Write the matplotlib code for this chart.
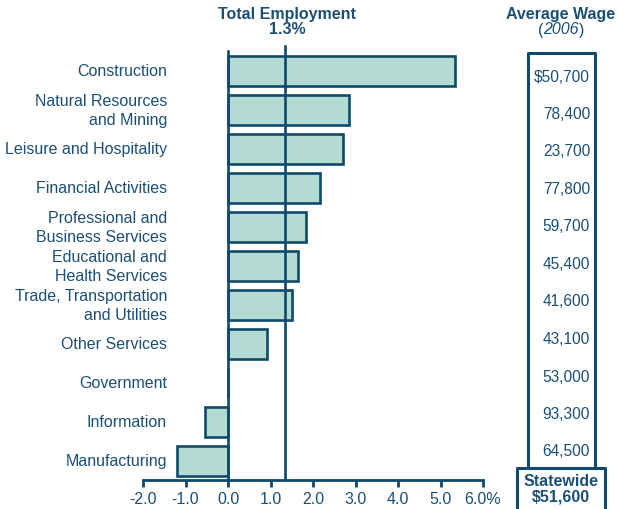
import matplotlib
matplotlib.use('Agg')
import matplotlib.pyplot as plt
import numpy as np
from matplotlib.patches import Rectangle

# data
industries = [
    'Construction',
    'Natural Resources\nand Mining',
    'Leisure and Hospitality',
    'Financial Activities',
    'Professional and\nBusiness Services',
    'Educational and\nHealth Services',
    'Trade, Transportation\nand Utilities',
    'Other Services',
    'Government',
    'Information',
    'Manufacturing',
]
growth = [5.35, 2.85, 2.7, 2.17, 1.83, 1.64, 1.5, 0.92, 0.01, -0.53, -1.19]
wages = ['$50,700', '78,400', '23,700', '77,800', '59,700', '45,400',
         '41,600', '43,100', '53,000', '93,300', '64,500']
total_growth = 1.3
statewide_wage = '$51,600'
wage_year = '2006'
xticks = [-2, -1, 0, 1, 2, 3, 4, 5, 6]
xtick_labels = ['-2.0', '-1.0', '0.0', '1.0', '2.0', '3.0', '4.0', '5.0', '6.0%']

DARK = '#0f4a6b'
TEXT = '#1c4f74'
FILL = '#b3dbd2'
FS = 11.5

plt.rcParams['font.family'] = ['Liberation Sans', 'DejaVu Sans']

W, H = 619, 510
fig = plt.figure(figsize=(W / 100, H / 100), dpi=100)


def fx(px):
    return px / W


def fy(py):
    return 1 - py / H


# main bar axes, pixel layout
top_px, bot_px = 45, 481
ax = fig.add_axes([fx(143), fy(bot_px), fx(483) - fx(143), fy(top_px) - fy(bot_px)])
step, first = 39.0, 72.0
ypos = np.arange(len(industries))
ax.set_ylim((bot_px - first) / step, (top_px - first) / step)
ax.set_xlim(-2, 6)

ax.barh(ypos, growth, height=0.78, color=FILL, edgecolor=DARK, linewidth=1.9, zorder=2)
ax.axvline(0, ymin=0, ymax=(bot_px - 52) / (bot_px - top_px), color=DARK, lw=1.9, zorder=3)
ax.axvline(total_growth + 0.05, ymin=0, ymax=(bot_px - 47) / (bot_px - top_px),
           color=DARK, lw=1.9, zorder=3)

for s in ['top', 'right', 'left']:
    ax.spines[s].set_visible(False)
ax.spines['bottom'].set_color(DARK)
ax.spines['bottom'].set_linewidth(2)
ax.set_xticks(xticks)
ax.set_xticklabels(xtick_labels)
ax.tick_params(axis='x', direction='out', length=5, width=2, color=DARK,
               labelcolor=TEXT, labelsize=FS, pad=3)
ax.set_yticks([])

# category labels sit right-aligned at x = 167 px
label_x = (167 - 228) / 42.5
for i, name in enumerate(industries):
    ax.text(label_x, i, name, ha='right', va='center', color=TEXT,
            fontsize=FS, linespacing=1.4, zorder=4)

fig.text(fx(287), fy(15), 'Total Employment', ha='center', va='center',
         fontsize=FS, fontweight='bold', color=TEXT)
fig.text(fx(287), fy(30), f'{total_growth:.1f}%', ha='center', va='center',
         fontsize=FS, fontweight='bold', color=TEXT)

# average wage column
fig.text(fx(561), fy(14), 'Average Wage', ha='center', va='center',
         fontsize=FS, fontweight='bold', color=TEXT)
# "(2006)" with the year in italics, built from three pieces
yr = fig.text(fx(561), fy(30), wage_year, ha='center', va='center',
              fontsize=FS, style='italic', color=TEXT)
ax.annotate('(', xy=(0, 0.5), xycoords=yr, ha='right', va='center',
            fontsize=FS, color=TEXT, annotation_clip=False)
ax.annotate(')', xy=(1, 0.5), xycoords=yr, ha='left', va='center',
            fontsize=FS, color=TEXT, annotation_clip=False)

fig.patches.append(Rectangle((fx(528), fy(470)), fx(595) - fx(528), fy(54) - fy(470),
                             transform=fig.transFigure, fill=False, edgecolor=DARK,
                             lw=2.2, joinstyle='round'))
wage_y = np.linspace(77, 452, len(wages))
for wy, w in zip(wage_y, wages):
    fig.text(fx(590), fy(wy), w, ha='right', va='center', fontsize=11.2, color=TEXT)

fig.patches.append(Rectangle((fx(517), fy(515)), fx(605) - fx(517), fy(469) - fy(515),
                             transform=fig.transFigure, facecolor='white',
                             edgecolor=DARK, lw=2.2, joinstyle='round'))
fig.text(fx(561), fy(482), 'Statewide', ha='center', va='center',
         fontsize=FS, fontweight='bold', color=TEXT)
fig.text(fx(561), fy(497), statewide_wage, ha='center', va='center',
         fontsize=FS, fontweight='bold', color=TEXT)

fig.savefig('out.png', dpi=100)
